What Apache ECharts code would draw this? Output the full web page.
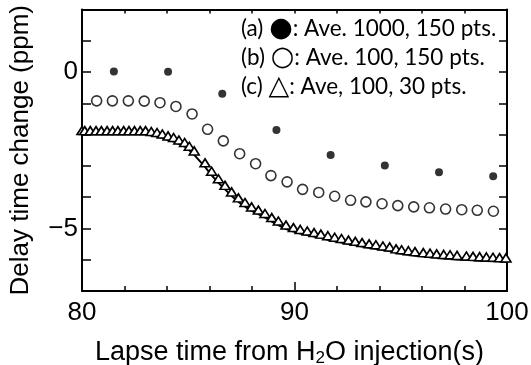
<!DOCTYPE html>
<html><head><meta charset="utf-8">
<script src="https://cdn.jsdelivr.net/npm/echarts@6/dist/echarts.min.js"></script>
<style>html,body{margin:0;padding:0;background:#fff}#c{width:531px;height:365px}</style>
</head><body><div id="c"></div>
<script>
// (a) filled dots: Ave. 1000, 150 pts.
const aX = [81.5, 84.05, 86.6, 89.15, 91.7, 94.25, 96.8, 99.35];
const aY = [0.02, 0.01, -0.69, -1.85, -2.65, -2.99, -3.20, -3.33];
// (b) open circles: Ave. 100, 150 pts.
const bX = [80.69, 81.43, 82.18, 82.93, 83.67, 84.42, 85.18, 85.91, 86.65, 87.42, 88.17, 88.89, 89.65,
            90.38, 91.14, 91.89, 92.64, 93.36, 94.12, 94.86, 95.61, 96.35, 97.11, 97.87, 98.60, 99.36];
const bY = [-0.92, -0.92, -0.92, -0.93, -0.98, -1.10, -1.34, -1.83, -2.20, -2.61, -2.93, -3.31, -3.51,
            -3.75, -3.85, -3.97, -4.10, -4.15, -4.21, -4.27, -4.31, -4.34, -4.38, -4.40, -4.42, -4.45];
// (c) triangles: Ave, 100, 30 pts.
const cX = [80.0, 80.13, 80.39, 80.66, 80.91, 81.18, 81.44, 81.69, 81.96, 82.21, 82.47, 82.74, 82.99,
            83.26, 83.53, 83.78, 84.05, 84.31, 84.56, 84.83, 85.05, 85.28,
            85.79, 86.10, 86.42, 86.73, 87.04, 87.36, 87.67, 87.98, 88.30, 88.61, 88.93, 89.24,
            89.60, 89.95, 90.27, 90.60, 90.92, 91.24, 91.57, 91.89, 92.21, 92.54, 92.86, 93.18, 93.51, 93.83, 94.16, 94.48,
            94.78, 95.04, 95.36, 95.67, 96.06, 96.38, 96.69, 97.02, 97.32, 97.65, 98.09, 98.40, 98.71, 99.03, 99.34, 99.65, 99.95];
const cY = [-2.0, -2.0, -2.0, -2.0, -2.0, -2.0, -2.0, -2.0, -2.0, -2.0, -2.0, -2.0, -2.0,
            -2.03, -2.06, -2.11, -2.17, -2.22, -2.30, -2.38, -2.50, -2.65,
            -3.03, -3.30, -3.54, -3.75, -3.96, -4.15, -4.30, -4.44, -4.54, -4.65, -4.78, -4.89,
            -5.02, -5.10, -5.16, -5.21, -5.26, -5.31, -5.36, -5.41, -5.45, -5.50, -5.54, -5.58, -5.62, -5.65, -5.69, -5.72,
            -5.78, -5.81, -5.84, -5.87, -5.90, -5.92, -5.94, -5.96, -5.97, -5.99, -6.01, -6.02, -6.03, -6.04, -6.05, -6.06, -6.07];
const yLabelValues = [0, -5];
const yLabelTexts = ['0', '\u22125'];
const xLabelValues = [80, 90, 100];
const xLabelTexts = ['80', '90', '100'];
const legendLines = [
  '(a) {s|\u25CF}: Ave. 1000, 150 pts.',
  '(b) {s|\u25CB}: Ave. 100, 150 pts.',
  '(c) {s|\u25B3}: Ave, 100, 30 pts.'
];

const zip = (xs, ys) => xs.map((x, i) => [x, ys[i]]);
const AF = '"Liberation Sans", Arial, sans-serif';
const chart = echarts.init(document.getElementById('c'), null, {renderer: 'canvas'});
const frameLine = {show: true, onZero: false, lineStyle: {color: '#000', width: 2}};
chart.setOption({
  animation: false,
  backgroundColor: '#fff',
  title: legendLines.map((t, i) => ({
    text: t, left: 241, top: 16 + i * 29, padding: 0,
    textStyle: {fontFamily: 'Lato, "Open Sans", sans-serif', fontSize: 22.5, fontWeight: 'normal', color: '#000',
      lineHeight: 26, rich: {s: {fontSize: 27, lineHeight: 26, fontFamily: '"DejaVu Sans", sans-serif'}}}
  })),
  grid: {left: 82, right: 24, top: 9.5, bottom: 74, containLabel: false, outerBoundsMode: 'none'},
  xAxis: [{
    type: 'value', min: 80, max: 100, interval: 10, position: 'bottom',
    axisLine: frameLine,
    axisTick: {show: true, inside: true, length: 9, lineStyle: {color: '#000', width: 1.5}},
    minorTick: {show: true, splitNumber: 5, length: 5, lineStyle: {color: '#000', width: 1.5}},
    splitLine: {show: false},
    axisLabel: {color: '#000', fontFamily: AF, fontSize: 26, margin: 9,
      formatter: v => { const k = xLabelValues.indexOf(v); return k >= 0 ? xLabelTexts[k] : ''; }},
    name: 'Lapse time from H{sub|2}O injection(s)', nameLocation: 'middle', nameGap: 47,
    nameTextStyle: {color: '#000', fontFamily: AF, fontSize: 27, padding: [0, 10, 0, 0],
      rich: {sub: {fontFamily: AF, fontSize: 17, verticalAlign: 'bottom', padding: [12, 0, 0, 0]}}}
  }, {
    type: 'value', min: 80, max: 100, interval: 2, position: 'top',
    axisLine: frameLine,
    axisTick: {show: true, inside: true, length: 4, lineStyle: {color: '#000', width: 1.5}},
    axisLabel: {show: false}, splitLine: {show: false}
  }],
  yAxis: [{
    type: 'value', min: -7, max: 2, interval: 1, position: 'left',
    axisLine: frameLine,
    axisTick: {show: true, inside: true, length: 9, lineStyle: {color: '#000', width: 1.5}},
    splitLine: {show: false},
    axisLabel: {color: '#000', fontFamily: AF, fontSize: 26, margin: 4,
      formatter: v => { const k = yLabelValues.indexOf(v); return k >= 0 ? yLabelTexts[k] : ''; }},
    name: 'Delay time change (ppm)', nameLocation: 'middle', nameGap: 48,
    nameTextStyle: {color: '#000', fontFamily: AF, fontSize: 26}
  }, {
    type: 'value', min: -7, max: 2, interval: 1, position: 'right',
    axisLine: frameLine,
    axisTick: {show: true, inside: true, length: 8, lineStyle: {color: '#000', width: 1.5}},
    axisLabel: {show: false}, splitLine: {show: false}
  }],
  series: [{
    name: 'c', type: 'line', data: zip(cX, cY), symbol: 'triangle', symbolSize: [10, 8], symbolOffset: [0, -4],
    showSymbol: true, showAllSymbol: true, z: 2,
    lineStyle: {color: '#000', width: 2},
    itemStyle: {color: '#fff', borderColor: '#000', borderWidth: 1.6}
  }, {
    name: 'b', type: 'scatter', data: zip(bX, bY), symbol: 'circle', symbolSize: 10, z: 3,
    itemStyle: {color: '#fff', borderColor: '#000', borderWidth: 1.6}
  }, {
    name: 'a', type: 'scatter', data: zip(aX, aY), symbol: 'circle', symbolSize: 8, z: 4,
    itemStyle: {color: '#000'}
  }]
});
</script></body></html>
